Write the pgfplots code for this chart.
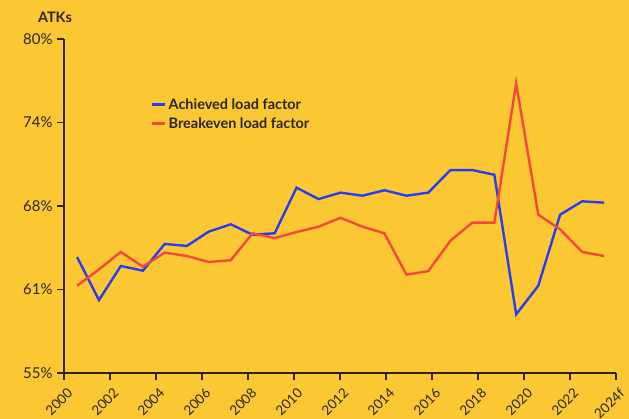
\documentclass[border=0pt]{standalone}
\usepackage{fontspec}
\setmainfont{Lato}
\usepackage{pgfplots}
\pgfplotsset{compat=1.18}
\definecolor{bg}{HTML}{FBC833}
\definecolor{achieved}{HTML}{2A3CF2}
\definecolor{breakeven}{HTML}{F4483A}
\definecolor{ink}{HTML}{2B2620}

\begin{document}
\begin{tikzpicture}
\fill[bg] (-64bp,-46bp) rectangle (565bp,373bp);
\useasboundingbox (-64bp,-46bp) rectangle (565bp,373bp);
\begin{axis}[
    at={(0,0)}, anchor=south west,
    scale only axis,
    width=552bp, height=334bp,
    xmin=2000, xmax=2024,
    ymin=55, ymax=80,
    axis x line*=bottom, axis y line*=left,
    axis line style={ink, line width=1.2bp},
    every tick/.style={ink, line width=1.2bp},
    tick align=outside, major tick length=7bp,
    xtick={2000,2002,...,2024},
    xticklabels={2000,2002,2004,2006,2008,2010,2012,2014,2016,2018,2020,2022,2024f},
    x tick label style={rotate=45, anchor=north east, font=\fontsize{13.5}{13.5}\selectfont, text=ink, xshift=0bp, yshift=-3.5bp},
    ytick={55,61.25,67.5,73.75,80},
    yticklabels={55\%,61\%,68\%,74\%,80\%},
    y tick label style={font=\fontsize{15}{15}\selectfont, text=ink, xshift=-1bp},
    legend style={at={(rel axis cs:0.152,0.835)}, anchor=north west, draw=none, fill=none,
        font=\bfseries\fontsize{14.5}{14.5}\selectfont, text=ink, row sep=3bp},
    legend cell align=left,
    legend image code/.code={\draw[#1, line width=2.6bp] (0bp,0bp) -- (13bp,0bp);},
    clip=false,
]
\addplot[achieved, line width=2.4bp] coordinates {
    (2000.57,63.68) (2001.52,60.46) (2002.47,63.01) (2003.43,62.66) (2004.38,64.66)
    (2005.34,64.51) (2006.29,65.58) (2007.25,66.13) (2008.20,65.35) (2009.16,65.46)
    (2010.11,68.87) (2011.07,68.02) (2012.02,68.50) (2012.98,68.27) (2013.93,68.68)
    (2014.89,68.27) (2015.84,68.50) (2016.80,70.19) (2017.75,70.19) (2018.71,69.84)
    (2019.66,59.39) (2020.62,61.53) (2021.57,66.85) (2022.53,67.85) (2023.48,67.75)
};
\addlegendentry{Achieved load factor}
\addplot[breakeven, line width=2.4bp] coordinates {
    (2000.57,61.53) (2001.52,62.75) (2002.47,64.06) (2003.43,62.96) (2004.38,64.01)
    (2005.34,63.76) (2006.29,63.31) (2007.25,63.44) (2008.20,65.46) (2009.16,65.10)
    (2010.11,65.55) (2011.07,65.95) (2012.02,66.62) (2012.98,65.95) (2013.93,65.46)
    (2014.89,62.36) (2015.84,62.63) (2016.80,64.90) (2017.75,66.25) (2018.71,66.25)
    (2019.66,76.68) (2020.62,66.85) (2021.57,65.75) (2022.53,64.06) (2023.48,63.76)
};
\addlegendentry{Breakeven load factor}
\end{axis}
\node[font=\bfseries\fontsize{14.5}{14.5}\selectfont, text=ink] at (-9bp,356bp) {ATKs};
\end{tikzpicture}
\end{document}
